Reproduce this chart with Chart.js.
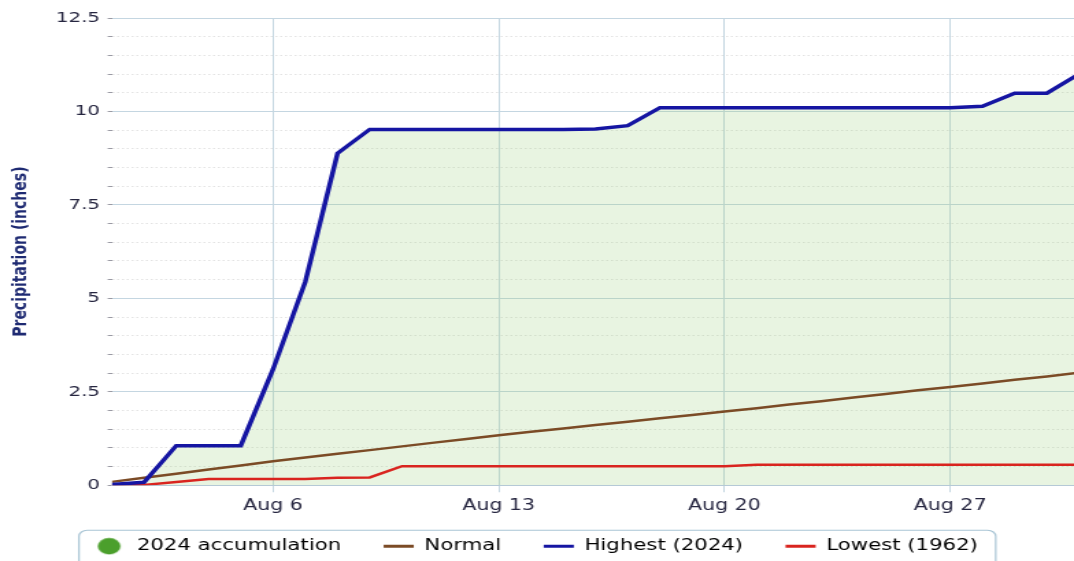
<!DOCTYPE html>
<html>
<head>
<meta charset="utf-8">
<title>August precipitation accumulation</title>
<script src="https://cdn.jsdelivr.net/npm/chart.js@4.4.1/dist/chart.umd.min.js"></script>
<style>
  html, body { margin: 0; padding: 0; background: #fff; overflow: hidden; }
</style>
</head>
<body>
<!-- drawn at 784 wide and shown stretched to 1074, like the source image -->
<canvas id="precipChart" width="784" height="564" style="display:block;width:1074px;height:564px"></canvas>
<script>
// August days
const days = [1, 2, 3, 4, 5, 6, 7, 8, 9, 10, 11, 12, 13, 14, 15, 16, 17, 18, 19, 20, 21, 22, 23, 24, 25, 26, 27, 28, 29, 30, 31];

// accumulated inches
const accum2024 = [0.02, 0.08, 1.06, 1.06, 1.06, 3.1, 5.44, 8.88, 9.52, 9.52, 9.52, 9.52, 9.52, 9.52, 9.52, 9.53, 9.62, 10.1, 10.1, 10.1, 10.1, 10.1, 10.1, 10.1, 10.1, 10.1, 10.1, 10.14, 10.49, 10.49, 11.0];
const normal = [0.09, 0.2, 0.31, 0.42, 0.53, 0.64, 0.74, 0.84, 0.94, 1.04, 1.14, 1.24, 1.34, 1.43, 1.52, 1.61, 1.7, 1.79, 1.88, 1.97, 2.06, 2.16, 2.25, 2.35, 2.44, 2.54, 2.63, 2.72, 2.82, 2.91, 3.01];
const highest2024 = accum2024; // 2024 is the record year
const lowest1962 = [0, 0.01, 0.09, 0.17, 0.17, 0.17, 0.17, 0.2, 0.21, 0.51, 0.51, 0.51, 0.51, 0.51, 0.51, 0.51, 0.51, 0.51, 0.51, 0.51, 0.55, 0.55, 0.55, 0.55, 0.55, 0.55, 0.55, 0.55, 0.55, 0.55, 0.55];

// axis ticks
const xTickDays = [6, 13, 20, 27];
const xTickLabels = ['Aug 6', 'Aug 13', 'Aug 20', 'Aug 27'];
const yMajorTicks = [0, 2.5, 5, 7.5, 10, 12.5];
const yTickLabels = ['0', '2.5', '5', '7.5', '10', '12.5'];

const fontFamily = "'DejaVu Sans', Verdana, sans-serif";
const gridBlue = '#c4d6e1';
const textColor = '#262640';

const toPoints = arr => days.map((d, i) => ({ x: d, y: arr[i] }));
const isMajor = v => yMajorTicks.some(m => Math.abs(m - v) < 1e-6);

// green dot for the legend
const dot = document.createElement('canvas');
dot.width = 22;
dot.height = 18;
const dctx = dot.getContext('2d');
dctx.fillStyle = '#4b9f2c';
dctx.beginPath();
dctx.arc(9.5, 9, 8.3, 0, Math.PI * 2);
dctx.fill();

// x axis is kept short so the legend sits close; let its labels hang below it
const xLabelRoom = {
    id: 'xLabelRoom',
    afterLayout(chart) {
        chart.scales.x.bottom += 14;
    }
};

// rounded frame round the legend
const legendFrame = {
    id: 'legendFrame',
    afterDraw(chart) {
        const boxes = chart.legend.legendHitBoxes;
        if (!boxes || !boxes.length) return;
        const first = boxes[0];
        const last = boxes[boxes.length - 1];
        const left = first.left - 12.5;
        const right = last.left + last.width + 13;
        const top = first.top + first.height / 2 - 16;
        const ctx = chart.ctx;
        ctx.save();
        ctx.strokeStyle = '#a9c5d5';
        ctx.lineWidth = 1.2;
        ctx.beginPath();
        ctx.roundRect(left, top, right - left, chart.height + 20 - top, 6);
        ctx.stroke();
        ctx.restore();
    }
};

const ctx = document.getElementById('precipChart').getContext('2d');

const precipChart = new Chart(ctx, {
    type: 'line',
    data: {
        datasets: [
            {
                label: '2024 accumulation',
                data: toPoints(accum2024),
                borderWidth: 0,
                borderColor: '#4b9f2c',
                backgroundColor: 'rgba(150, 205, 120, 0.22)',
                fill: 'origin',
                pointRadius: 0,
                order: 4
            },
            {
                label: 'Normal',
                data: toPoints(normal),
                borderColor: '#7b4b26',
                borderWidth: 2.5,
                pointRadius: 0,
                fill: false,
                order: 3
            },
            {
                label: 'Highest (2024)',
                data: toPoints(highest2024),
                borderColor: '#1515a2',
                borderWidth: 3.5,
                pointRadius: 0,
                fill: false,
                order: 1
            },
            {
                label: 'Lowest (1962)',
                data: toPoints(lowest1962),
                borderColor: '#d9241f',
                borderWidth: 2.5,
                pointRadius: 0,
                fill: false,
                order: 2
            }
        ]
    },
    options: {
        responsive: false,
        devicePixelRatio: 1,
        animation: false,
        layout: { padding: { top: 18, left: 0, right: 0, bottom: 0 } },
        scales: {
            x: {
                type: 'linear',
                min: 1,
                max: 30.84,
                afterBuildTicks: scale => {
                    scale.ticks = xTickDays.map(v => ({ value: v }));
                },
                afterFit: scale => { scale.height = 22.25; },
                ticks: {
                    autoSkip: false,
                    maxRotation: 0,
                    padding: 5,
                    color: textColor,
                    font: { family: fontFamily, size: 15 },
                    callback: (value, index) => xTickLabels[index]
                },
                grid: {
                    color: gridBlue,
                    lineWidth: 1,
                    tickLength: 7,
                    tickColor: gridBlue
                },
                border: { display: true, color: '#b6cad7', width: 1 }
            },
            y: {
                min: 0,
                max: 12.5,
                afterFit: scale => { scale.width = 81.6; },
                title: {
                    display: true,
                    text: 'Precipitation (inches)',
                    color: '#1e2a72',
                    font: { family: fontFamily, size: 14, weight: 'bold' },
                    padding: { top: 7, bottom: 0 }
                },
                ticks: {
                    stepSize: 0.5,
                    autoSkip: false,
                    padding: 5.6,
                    color: textColor,
                    font: { family: fontFamily, size: 14.5 },
                    callback: value => {
                        const i = yMajorTicks.findIndex(m => Math.abs(m - value) < 1e-6);
                        return i >= 0 ? yTickLabels[i] : '';
                    }
                },
                grid: {
                    color: c => isMajor(c.tick.value) ? gridBlue : '#e3e3e3',
                    lineWidth: 1,
                    tickLength: 3,
                    tickColor: '#9a9aa4'
                },
                border: {
                    display: false,
                    dash: c => (c.tick && !isMajor(c.tick.value)) ? [1.5, 2] : []
                }
            }
        },
        plugins: {
            tooltip: { enabled: false },
            legend: {
                position: 'bottom',
                labels: {
                    usePointStyle: true,
                    pointStyleWidth: 22,
                    padding: 31,
                    color: textColor,
                    font: { family: fontFamily, size: 15.5 },
                    generateLabels: chart => chart.data.datasets.map((ds, i) => ({
                        text: ds.label,
                        datasetIndex: i,
                        strokeStyle: ds.borderColor,
                        fillStyle: ds.borderColor,
                        lineWidth: 3,
                        pointStyle: i === 0 ? dot : 'line',
                        hidden: false
                    }))
                }
            }
        }
    },
    plugins: [xLabelRoom, legendFrame]
});
</script>
</body>
</html>
